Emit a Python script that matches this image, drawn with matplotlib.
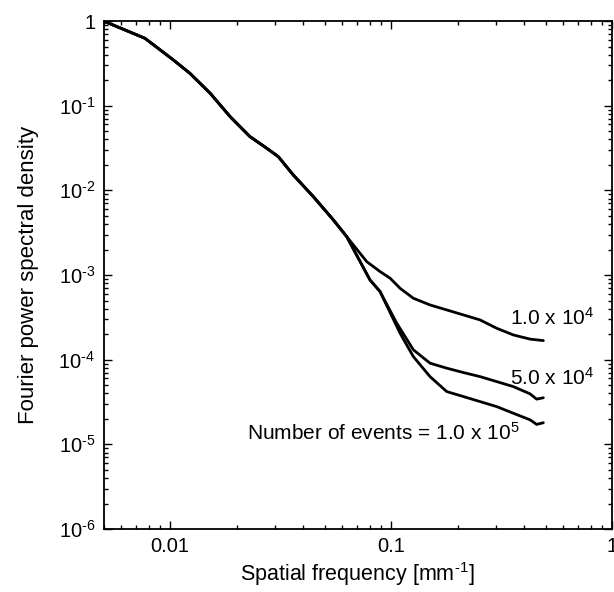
import matplotlib
matplotlib.use("Agg")
import matplotlib.pyplot as plt
from matplotlib.ticker import FixedLocator, FixedFormatter, NullFormatter, LogLocator

plt.rcParams['font.family'] = ['Liberation Sans', 'DejaVu Sans']
plt.rcParams['mathtext.fontset'] = 'custom'
plt.rcParams['mathtext.rm'] = 'Liberation Sans'
plt.rcParams['mathtext.it'] = 'Liberation Sans:italic'
plt.rcParams['mathtext.bf'] = 'Liberation Sans:bold'
plt.rcParams['mathtext.default'] = 'regular'

# low-frequency part, shared by all three event counts
freq_common = [0.005, 0.0077, 0.01035, 0.0123, 0.0152, 0.0187, 0.0230, 0.0274,
               0.0309, 0.0361, 0.0445, 0.0548, 0.0630]
psd_common = [1.0, 0.625, 0.347, 0.241, 0.140, 0.0742, 0.0431, 0.0314,
              0.0250, 0.0152, 0.00843, 0.00448, 0.00284]

# 1.0 x 10^4 events
freq_1e4 = [0.0776, 0.0891, 0.0990, 0.1098, 0.1261, 0.1501, 0.1786, 0.2124,
            0.2527, 0.3007, 0.3575, 0.4255, 0.489]
psd_1e4 = [1.44e-3, 1.10e-3, 9.17e-4, 6.98e-4, 5.32e-4, 4.43e-4, 3.87e-4, 3.38e-4,
           2.95e-4, 2.35e-4, 1.96e-4, 1.75e-4, 1.68e-4]

# 5.0 x 10^4 events
freq_5e4 = [0.0803, 0.0891, 0.1061, 0.1261, 0.1501, 0.1786, 0.2124, 0.2527,
            0.3007, 0.3575, 0.4255, 0.456, 0.489]
psd_5e4 = [8.75e-4, 6.4e-4, 2.70e-4, 1.31e-4, 9.09e-5, 7.94e-5, 7.05e-5, 6.31e-5,
           5.51e-5, 4.81e-5, 3.95e-5, 3.42e-5, 3.55e-5]

# 1.0 x 10^5 events
freq_1e5 = [0.0803, 0.0891, 0.1098, 0.1261, 0.1501, 0.1786, 0.2124, 0.2527,
            0.3007, 0.3575, 0.4255, 0.456, 0.489]
psd_1e5 = [8.75e-4, 6.4e-4, 2.06e-4, 1.09e-4, 6.31e-5, 4.20e-5, 3.67e-5, 3.20e-5,
           2.79e-5, 2.33e-5, 1.95e-5, 1.72e-5, 1.80e-5]

xticks = [0.01, 0.1, 1]
xtick_labels = ['0.01', '0.1', '1']
yticks = [1e-6, 1e-5, 1e-4, 1e-3, 1e-2, 1e-1, 1]
# short hyphen in the exponents instead of the wide math minus
ytick_labels = ['$10^{\u20106}$', '$10^{\u20105}$', '$10^{\u20104}$', '$10^{\u20103}$',
                '$10^{\u20102}$', '$10^{\u20101}$', '1']

fig = plt.figure(figsize=(6.14, 5.92), dpi=100)
ax = fig.add_axes([0.1686, 0.1064, 0.8282, 0.8581])

for f, p in [(freq_1e4, psd_1e4), (freq_5e4, psd_5e4), (freq_1e5, psd_1e5)]:
    ax.plot(freq_common + f, psd_common + p, color='black', lw=2.0,
            solid_joinstyle='round', solid_capstyle='round')

ax.set_xscale('log')
ax.set_yscale('log')
ax.set_xlim(0.005, 1)
ax.set_ylim(1e-6, 1)

ax.xaxis.set_major_locator(FixedLocator(xticks))
ax.xaxis.set_major_formatter(FixedFormatter(xtick_labels))
ax.xaxis.set_minor_locator(LogLocator(base=10, subs=range(2, 10)))
ax.xaxis.set_minor_formatter(NullFormatter())
ax.yaxis.set_major_locator(FixedLocator(yticks))
ax.yaxis.set_major_formatter(FixedFormatter(ytick_labels))
ax.yaxis.set_minor_locator(LogLocator(base=10, subs=range(2, 10), numticks=20))
ax.yaxis.set_minor_formatter(NullFormatter())

ax.tick_params(which='both', direction='in', top=True, right=True, width=1.0)
ax.tick_params(which='major', length=6, labelsize=14.5, pad=6)
ax.tick_params(which='minor', length=3)
for s in ax.spines.values():
    s.set_linewidth(1.3)

ax.set_xlabel('Spatial frequency [mm$^{\u20101}$]', fontsize=15.5, labelpad=3)
ax.set_ylabel('Fourier power spectral density', fontsize=16, labelpad=14)

ax.text(0.345, 3.1e-4, '1.0 x 10$^{4}$', fontsize=15, ha='left', va='center')
ax.text(0.345, 6.1e-5, '5.0 x 10$^{4}$', fontsize=15, ha='left', va='center')
ax.text(0.383, 1.37e-5, 'Number of events = 1.0 x 10$^{5}$', fontsize=15,
        ha='right', va='center')

fig.savefig('out.png', dpi=100)
